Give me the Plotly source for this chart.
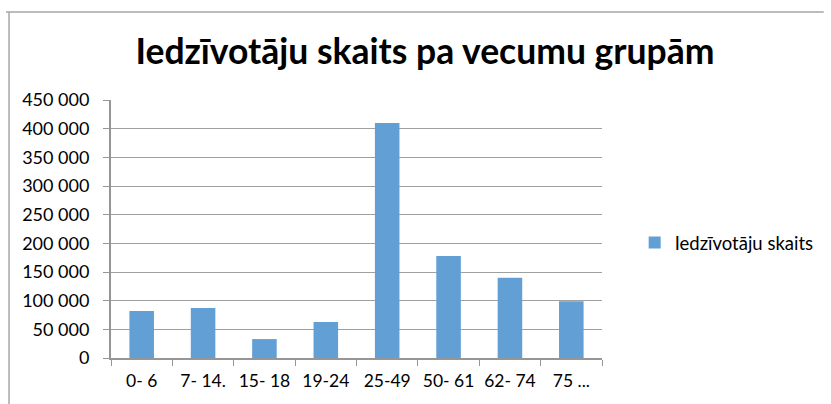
import plotly.graph_objects as go

categories = ["0- 6", "7- 14.", "15- 18", "19-24", "25-49", "50- 61", "62- 74", "75 ..."]
values = [82000, 87000, 33000, 63000, 410000, 178000, 140000, 99000]
series_name = "Iedzīvotāju skaits"
title_text = "Iedzīvotāju skaits pa vecumu grupām"

W, H = 831, 404
L, R, T, B = 111, 224, 100, 46
pw, ph = W - L - R, H - T - B

def px_x(x):
    return (x - L) / pw

def px_y(y):
    return (H - B - y) / ph

FONT = "Lato, Open Sans, sans-serif"

fig = go.Figure()
fig.add_trace(go.Bar(
    x=categories, y=values, name=series_name,
    marker=dict(color="#629fd4", line=dict(width=0)),
    width=0.4, showlegend=True,
))

fig.update_layout(
    template="none",
    width=W, height=H,
    margin=dict(l=L, r=R, t=T, b=B, pad=0),
    paper_bgcolor="white", plot_bgcolor="white",
    separators=". ",
    font=dict(family=FONT, size=18, color="#000000"),
    title=dict(text="<b>" + title_text + "</b>", x=425 / W, xanchor="center",
               y=1 - 52 / H, yanchor="middle",
               font=dict(size=35.5, family=FONT, color="#000000")),
    showlegend=True,
    legend=dict(x=px_x(640), y=px_y(243), xanchor="left", yanchor="middle",
                font=dict(size=18.5), bgcolor="rgba(0,0,0,0)", borderwidth=0),
    shapes=[
        dict(type="line", xref="paper", yref="paper", x0=px_x(5), x1=px_x(831), y0=px_y(12), y1=px_y(12),
             line=dict(color="#a6a6a6", width=1.5)),
        dict(type="line", xref="paper", yref="paper", x0=px_x(8), x1=px_x(8), y0=px_y(12), y1=px_y(404),
             line=dict(color="#a6a6a6", width=1.5)),
    ],
)

fig.update_yaxes(
    range=[0, 450000], tickvals=list(range(0, 450001, 50000)), tickformat=",d",
    showgrid=True, gridcolor="#a0a0a0", gridwidth=1,
    showline=True, linecolor="#969696", linewidth=2,
    ticks="outside", ticklen=6, tickcolor="#969696", ticklabelstandoff=10,
    zeroline=False, tickfont=dict(size=18), automargin=False,
)
fig.update_xaxes(
    showline=True, linecolor="#969696", linewidth=2,
    ticks="outside", ticklen=6, tickcolor="#969696", tickson="boundaries",
    showgrid=False, tickfont=dict(size=17.5), tickangle=0, ticklabelstandoff=6,
    automargin=False,
)

fig.write_html("out.html", config={"displayModeBar": False},
               post_script="document.body.style.margin='0';")
